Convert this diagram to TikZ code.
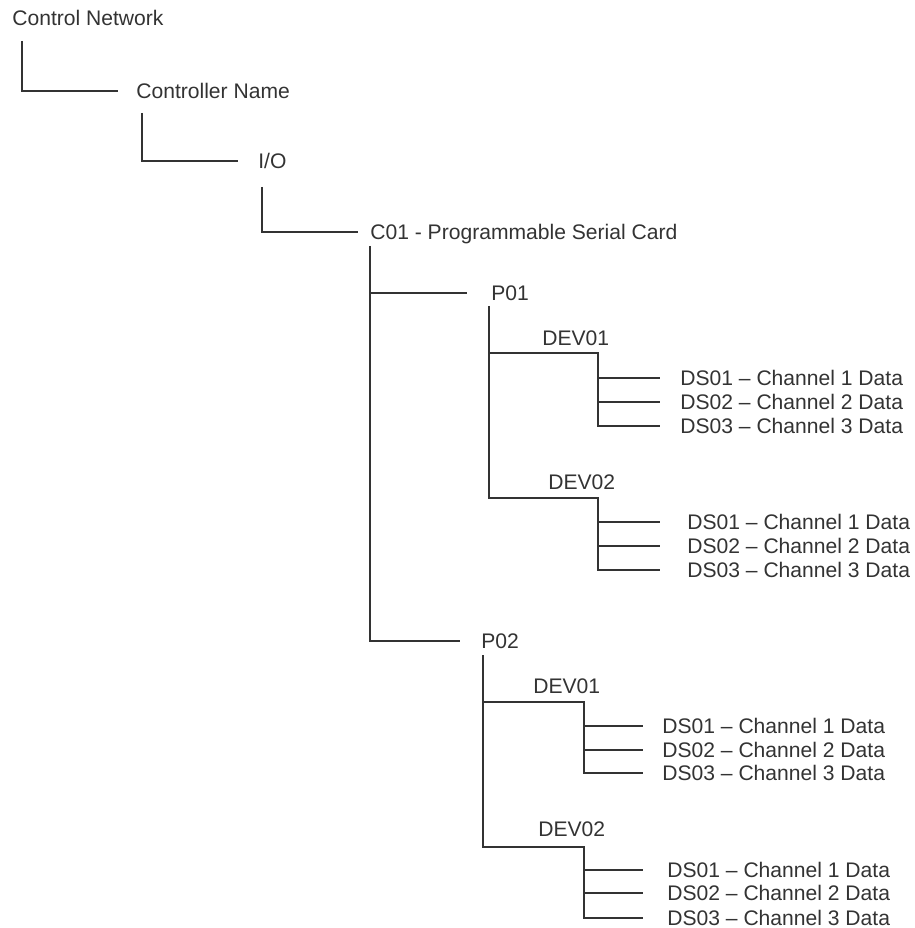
\documentclass[tikz,border=0pt]{standalone}
\usepackage{fontspec}
\setmainfont{Liberation Sans}
\usetikzlibrary{calc}
\definecolor{ink}{HTML}{333333}
\tikzset{
  lbl/.style={anchor=west, inner sep=0pt, text height=8.6pt, text depth=0pt,
    font=\fontsize{12pt}{14pt}\selectfont, text=ink},
  tree/.style={draw=ink, line width=1.1pt}
}

\begin{document}
\begin{tikzpicture}[x=0.02cm, y=-0.02cm]
    \useasboundingbox (0,0) rectangle (914,928);
    % obere Ebenen:
    \node[lbl] (net) at (12,18) {Control Network};
    \node[lbl] (ctrl) at (136,91) {Controller Name};
    \node[lbl] (io) at (258,161) {I/O};
    \node[lbl] (card) at (370,232) {C01 - Programmable Serial Card};
    \node[lbl] (p1) at (491,293) {P01}; % erster Port
    \node[lbl] (p2) at (481,641) {P02}; % zweiter Port
    % Geraete:
    \node[lbl] (p1d1) at (542,338) {DEV01};
    \node[lbl] (p1d2) at (548,482) {DEV02};
    \node[lbl] (p2d1) at (533,686) {DEV01};
    \node[lbl] (p2d2) at (538,829) {DEV02};
    % Datensaetze P01:
    \node[lbl] (p1d1s1) at (680,378) {DS01 – Channel 1 Data};
    \node[lbl] (p1d1s2) at (680,402) {DS02 – Channel 2 Data};
    \node[lbl] (p1d1s3) at (680,426) {DS03 – Channel 3 Data};
    \node[lbl] (p1d2s1) at (687,522) {DS01 – Channel 1 Data};
    \node[lbl] (p1d2s2) at (687,546) {DS02 – Channel 2 Data};
    \node[lbl] (p1d2s3) at (687,570) {DS03 – Channel 3 Data};
    % Datensaetze P02:
    \node[lbl] (p2d1s1) at (662,726) {DS01 – Channel 1 Data};
    \node[lbl] (p2d1s2) at (662,750) {DS02 – Channel 2 Data};
    \node[lbl] (p2d1s3) at (662,773) {DS03 – Channel 3 Data};
    \node[lbl] (p2d2s1) at (667,870) {DS01 – Channel 1 Data};
    \node[lbl] (p2d2s2) at (667,893) {DS02 – Channel 2 Data};
    \node[lbl] (p2d2s3) at (667,918) {DS03 – Channel 3 Data};
    % Knickpunkte:
    \coordinate (p1v) at (489,306);
    \coordinate (p2v) at (483,655);
    \coordinate (p1d1c) at (598,353);
    \coordinate (p1d2c) at (598,498);
    \coordinate (p2d1c) at (584,702);
    \coordinate (p2d2c) at (584,847);

    % obere Verbindungen:
    \draw[tree] ($(net.south west)+(10,15)$) |- ($(ctrl.west)+(-18,0)$);
    \draw[tree] ($(ctrl.south west)+(6,14)$) |- ($(io.west)+(-20,0)$);
    \draw[tree] ($(io.south west)+(4,18)$) |- ($(card.west)+(-12,0)$);
    \draw[tree] ($(card.south west)+(0,6)$) |- ($(p2.west)+(-21,0)$);
    \draw[tree] (card.west |- p1.west) -- ($(p1.west)+(-24,0)$);

    % P01:
    \draw[tree] (p1v) |- (p1d2c) |- ($(p1d2s3.west)+(-27,0)$);
    \draw[tree] (p1v |- p1d1c) -- (p1d1c) |- ($(p1d1s3.west)+(-20,0)$);
    \draw[tree] (p1d1c |- p1d1s1.west) -- ($(p1d1s1.west)+(-20,0)$);
    \draw[tree] (p1d1c |- p1d1s2.west) -- ($(p1d1s2.west)+(-20,0)$);
    \draw[tree] (p1d2c |- p1d2s1.west) -- ($(p1d2s1.west)+(-27,0)$);
    \draw[tree] (p1d2c |- p1d2s2.west) -- ($(p1d2s2.west)+(-27,0)$);

    % P02:
    \draw[tree] (p2v) |- (p2d2c) |- ($(p2d2s3.west)+(-24,0)$);
    \draw[tree] (p2v |- p2d1c) -- (p2d1c) |- ($(p2d1s3.west)+(-19,0)$);
    \draw[tree] (p2d1c |- p2d1s1.west) -- ($(p2d1s1.west)+(-19,0)$);
    \draw[tree] (p2d1c |- p2d1s2.west) -- ($(p2d1s2.west)+(-19,0)$);
    \draw[tree] (p2d2c |- p2d2s1.west) -- ($(p2d2s1.west)+(-24,0)$);
    \draw[tree] (p2d2c |- p2d2s2.west) -- ($(p2d2s2.west)+(-24,0)$);
\end{tikzpicture}
\end{document}
